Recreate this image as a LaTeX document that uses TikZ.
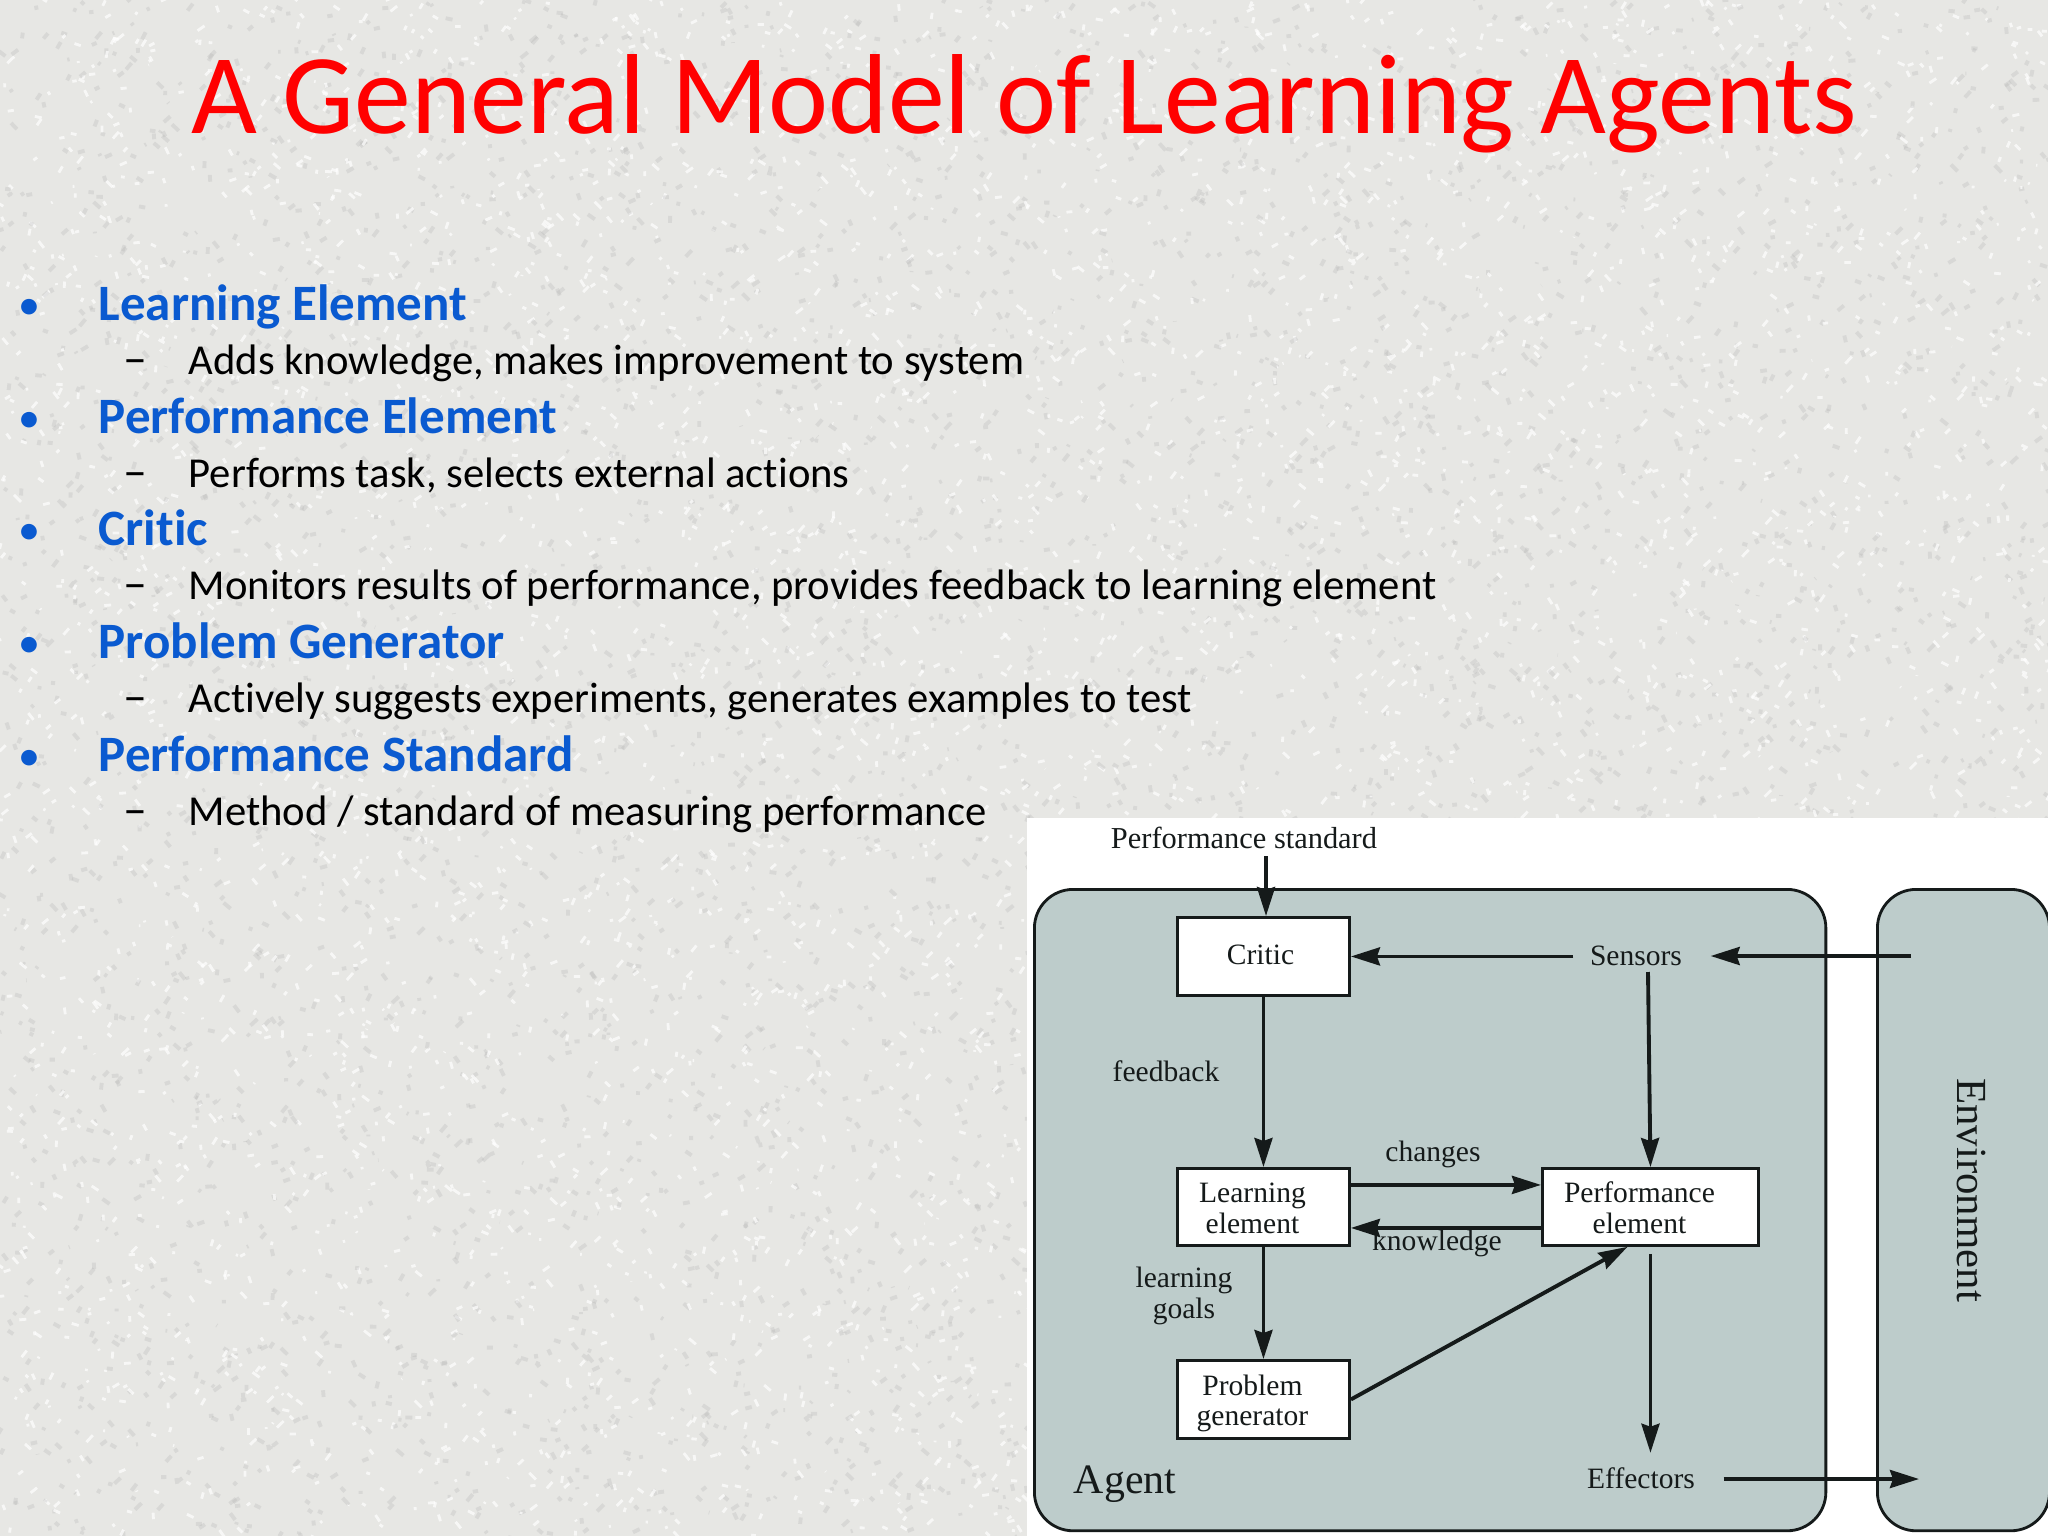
\documentclass[tikz,border=0pt]{standalone}
\usepackage{fontspec}
\setmainfont{Carlito}[Ligatures=CommonOff]
\newfontfamily\diagfont{Liberation Serif}
\usetikzlibrary{arrows.meta}
\definecolor{paper}{HTML}{E7E7E4}
\definecolor{agentfill}{HTML}{BDCCCB}
\definecolor{headblue}{HTML}{0A5AD0}
\definecolor{inkline}{HTML}{151A1A}
\newcommand{\leftlines}[1]{\begin{tabular}{@{}c@{\hspace{.22cm}}}#1\end{tabular}}
\newcommand{\grainbatch}[4]{% colour, opacity, line width, strokes
  \begin{pgfscope}
  \pgfsetstrokecolor{#1}\pgfsetstrokeopacity{#2}\pgfsetlinewidth{#3}
  \foreach \i in {1,...,#4}{
    \pgfmathsetmacro{\ax}{rnd*582.7}
    \pgfmathsetmacro{\ay}{rnd*437}
    \pgfmathsetmacro{\bx}{\ax+(rnd-.5)*4}
    \pgfmathsetmacro{\by}{\ay+(rnd-.5)*4}
    \pgfpathmoveto{\pgfqpoint{\ax pt}{-\ay pt}}
    \pgfpathlineto{\pgfqpoint{\bx pt}{-\by pt}}
  }
  \pgfusepath{stroke}
  \end{pgfscope}
}
\tikzset{
  titletext/.style={anchor=base,inner sep=0pt,text=red,font=\fontsize{32.35}{38}\selectfont},
  headtext/.style={anchor=base west,inner sep=0pt,text=headblue,font=\fontsize{14.5}{17}\selectfont\bfseries},
  subtext/.style={anchor=base west,inner sep=0pt,text=black,font=\fontsize{12.13}{15}\selectfont},
  bulletmark/.style={anchor=base,inner sep=0pt,text=headblue,font=\fontsize{10.5}{12}\selectfont\bfseries},
  dashmark/.style={anchor=base,inner sep=0pt,text=black,font=\fontsize{13.6}{15}\selectfont},
  panel/.style={draw=inkline,line width=.8pt,fill=agentfill,rounded corners=11pt,minimum height=6.41cm,inner sep=0pt,anchor=north west},
  whitebox/.style={draw=inkline,line width=.8pt,fill=white,inner sep=0pt,align=center,anchor=north west,text=inkline,font=\diagfont\fontsize{8.4}{8.6}\selectfont},
  label/.style={inner sep=0pt,align=center,text=inkline,font=\diagfont\fontsize{8.4}{8.6}\selectfont},
  flow/.style={draw=inkline,line width=1.1pt,-{Stealth[length=2.9mm,width=1.8mm,inset=0.3mm]}},
}
\begin{document}
\begin{tikzpicture}[x=0.01cm,y=-0.01cm]
\useasboundingbox (0,0) rectangle (2048,1536);
\fill[paper] (0,0) rectangle (2048,1536);
% paper grain
\pgfmathsetseed{4242}
\foreach \batch in {1,...,6}{
  \grainbatch{black!30}{.28}{1.1pt}{900}
  \grainbatch{white}{.7}{.8pt}{900}
}
% title
\node[titletext] (title) at (1024,133) {A General Model of Learning Agents};
% bullets
\node[bulletmark] (b1) at (29,317) {•};
\node[headtext] (h1) at (98,320.5) {Learning Element};
\node[dashmark] (d1) at (135,374.5) {–};
\node[subtext] (s1) at (188,374.5) {Adds knowledge, makes improvement to system};
\node[bulletmark] (b2) at (29,430) {•};
\node[headtext] (h2) at (98,433.5) {Performance Element};
\node[dashmark] (d2) at (135,487.5) {–};
\node[subtext] (s2) at (188,487.5) {Performs task, selects external actions};
\node[bulletmark] (b3) at (29,542) {•};
\node[headtext] (h3) at (98,545.5) {Critic};
\node[dashmark] (d3) at (135,599.5) {–};
\node[subtext] (s3) at (188,599.5) {Monitors results of performance, provides feedback to learning element};
\node[bulletmark] (b4) at (29,655) {•};
\node[headtext] (h4) at (98,658.5) {Problem Generator};
\node[dashmark] (d4) at (135,712.5) {–};
\node[subtext] (s4) at (188,712.5) {Actively suggests experiments, generates examples to test};
\node[bulletmark] (b5) at (29,768) {•};
\node[headtext] (h5) at (98,771.5) {Performance Standard};
\node[dashmark] (d5) at (135,825.5) {–};
\node[subtext] (s5) at (188,825.5) {Method / standard of measuring performance};
% figure
\fill[white] (1027,818) rectangle (2048,1536);
\node[panel,minimum width=7.91cm] (agent) at (1033,888) {};
\node[panel,minimum width=1.72cm] (env) at (1876,888) {};
\node[whitebox,minimum width=1.72cm,minimum height=.78cm] (critic) at (1176,916) {\raisebox{.025cm}{\hspace*{-.06cm}Critic}};
\node[whitebox,minimum width=1.72cm,minimum height=.77cm] (learn) at (1176,1167) {\leftlines{\\[-.2cm]Learning\\element}};
\node[whitebox,minimum width=2.16cm,minimum height=.77cm] (perf) at (1541,1167) {\leftlines{\\[-.2cm]Performance\\element}};
\node[whitebox,minimum width=1.72cm,minimum height=.78cm] (prob) at (1176,1359) {\leftlines{\\[-.2cm]Problem\\generator}};
\node[label,font=\diagfont\fontsize{8.65}{9}\selectfont] (std) at (1244,838) {Performance standard};
\node[label] (sens) at (1636,956) {Sensors};
\node[label] (eff) at (1641,1478) {Effectors};
\node[label,font=\diagfont\fontsize{11.9}{13}\selectfont] (agentlab) at (1125,1484) {Agent};
\node[label,rotate=-90,font=\diagfont\fontsize{12.2}{13}\selectfont] (envlab) at (1971,1190) {Environment};
\node[label] (fb) at (1166,1071) {feedback};
\node[label] (chg) at (1433,1154) {changes};
\node[label] (know) at (1437,1243) {knowledge};
\node[label] (goals) at (1184,1296) {learning\\goals};
\coordinate (envin) at (1911,956);
\coordinate (envout) at (1919,1479);
\coordinate (stdfoot) at (1266,856);
\coordinate (sensfoot) at (1648,972);
% connectors
\draw[flow] (stdfoot) -- (stdfoot |- critic.north);
\draw[flow] (critic.south) -- (learn.north);
\draw[flow] ([xshift=-.16cm]sens.west |- critic.east) -- (critic.east);
\draw[flow] (envin) -- ([xshift=.28cm]sens.east |- envin);
\draw[flow] (sensfoot) -- (perf.north);
\draw[flow] ([yshift=.22cm]learn.east) -- ([yshift=.22cm]perf.west);
\draw[flow] ([yshift=-.21cm]perf.west) -- ([yshift=-.21cm]learn.east);
\draw[flow] (learn.south) -- (prob.north);
\draw[flow] (prob.east) -- ([xshift=-.23cm]perf.south);
\draw[flow] ([yshift=-.07cm]perf.south) -- ([yshift=.14cm]eff.north -| perf.south);
\draw[flow] ([xshift=.28cm]eff.east |- envout) -- (envout);
\end{tikzpicture}
\end{document}
